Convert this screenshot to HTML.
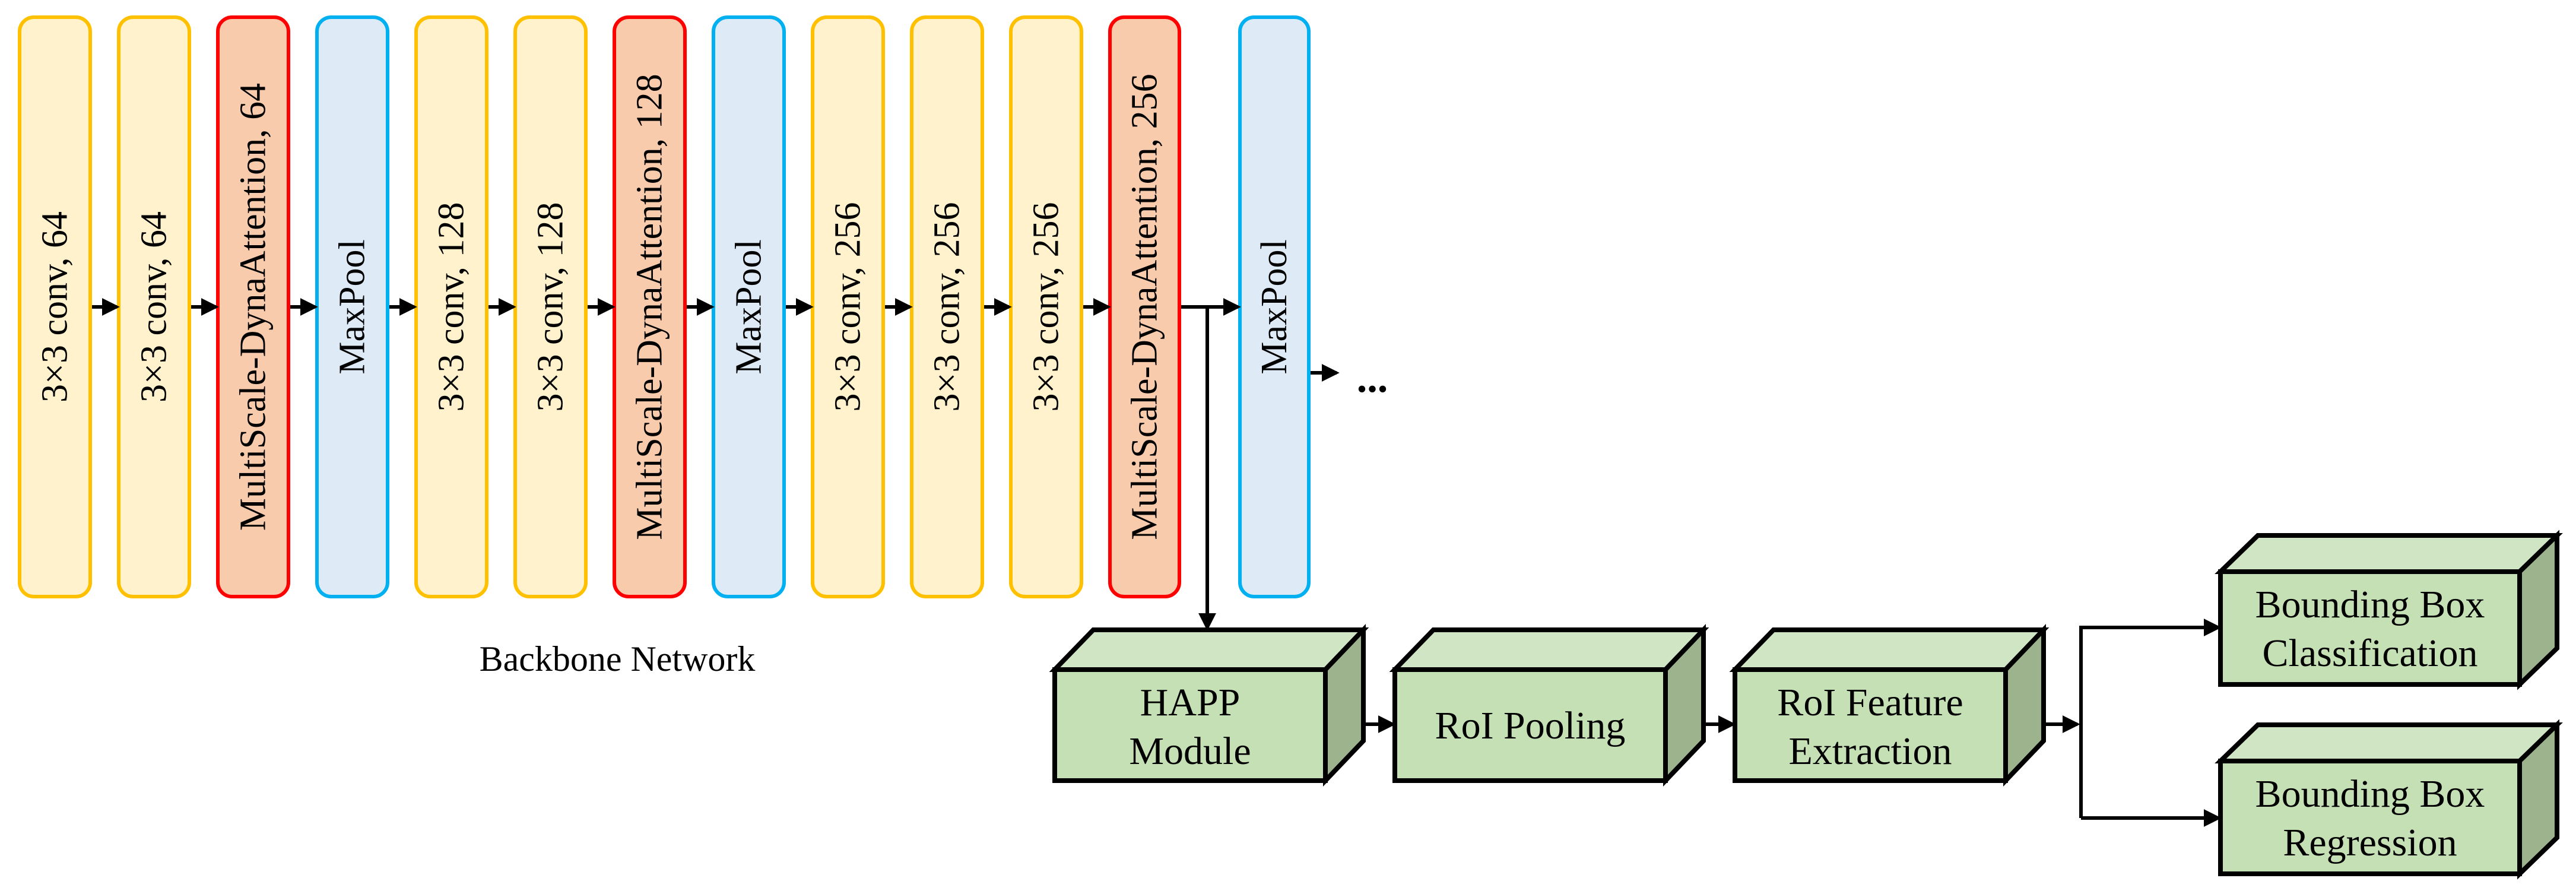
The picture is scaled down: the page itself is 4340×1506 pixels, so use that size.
<!DOCTYPE html>
<html><head><meta charset="utf-8"><style>html,body{margin:0;padding:0;background:#fff}svg{display:block}</style></head>
<body>
<svg width="4340" height="1506" viewBox="0 0 4340 1506" xmlns="http://www.w3.org/2000/svg" font-family="Liberation Serif, serif">
<defs>
<marker id="ah" markerWidth="5" markerHeight="5" refX="4.2" refY="2.5" orient="auto" markerUnits="strokeWidth">
<path d="M0,0 L5,2.5 L0,5 z" fill="#000"/></marker>
</defs>
<g stroke-width="6" id="boxes">
<rect x="33" y="29" width="119" height="976" rx="24" fill="#FFF2CC" stroke="#FFC000"/>
<rect x="200" y="29" width="119" height="976" rx="24" fill="#FFF2CC" stroke="#FFC000"/>
<rect x="367" y="29" width="119" height="976" rx="24" fill="#F8CBAD" stroke="#FF0000"/>
<rect x="534" y="29" width="119" height="976" rx="24" fill="#DEEBF7" stroke="#00B0F0"/>
<rect x="701" y="29" width="119" height="976" rx="24" fill="#FFF2CC" stroke="#FFC000"/>
<rect x="868" y="29" width="119" height="976" rx="24" fill="#FFF2CC" stroke="#FFC000"/>
<rect x="1035" y="29" width="119" height="976" rx="24" fill="#F8CBAD" stroke="#FF0000"/>
<rect x="1202" y="29" width="119" height="976" rx="24" fill="#DEEBF7" stroke="#00B0F0"/>
<rect x="1369" y="29" width="119" height="976" rx="24" fill="#FFF2CC" stroke="#FFC000"/>
<rect x="1536" y="29" width="119" height="976" rx="24" fill="#FFF2CC" stroke="#FFC000"/>
<rect x="1703" y="29" width="119" height="976" rx="24" fill="#FFF2CC" stroke="#FFC000"/>
<rect x="1870" y="29" width="117" height="976" rx="24" fill="#F8CBAD" stroke="#FF0000"/>
<rect x="2089" y="29" width="116" height="976" rx="24" fill="#DEEBF7" stroke="#00B0F0"/>
</g>
<g font-size="62" fill="#000" text-anchor="middle" dominant-baseline="central">
<text transform="translate(92.5,517) rotate(-90)">3×3 conv, 64</text>
<text transform="translate(259.5,517) rotate(-90)">3×3 conv, 64</text>
<text transform="translate(426.5,517) rotate(-90)">MultiScale-DynaAttention, 64</text>
<text transform="translate(593.5,517) rotate(-90)">MaxPool</text>
<text transform="translate(760.5,517) rotate(-90)">3×3 conv, 128</text>
<text transform="translate(927.5,517) rotate(-90)">3×3 conv, 128</text>
<text transform="translate(1094.5,517) rotate(-90)">MultiScale-DynaAttention, 128</text>
<text transform="translate(1261.5,517) rotate(-90)">MaxPool</text>
<text transform="translate(1428.5,517) rotate(-90)">3×3 conv, 256</text>
<text transform="translate(1595.5,517) rotate(-90)">3×3 conv, 256</text>
<text transform="translate(1762.5,517) rotate(-90)">3×3 conv, 256</text>
<text transform="translate(1928.5,517) rotate(-90)">MultiScale-DynaAttention, 256</text>
<text transform="translate(2147,517) rotate(-90)">MaxPool</text>
</g>
<g stroke="#000" stroke-width="6" fill="none" marker-end="url(#ah)">
<line x1="155" y1="517" x2="197" y2="517"/>
<line x1="322" y1="517" x2="364" y2="517"/>
<line x1="489" y1="517" x2="531" y2="517"/>
<line x1="656" y1="517" x2="698" y2="517"/>
<line x1="823" y1="517" x2="865" y2="517"/>
<line x1="990" y1="517" x2="1032" y2="517"/>
<line x1="1157" y1="517" x2="1199" y2="517"/>
<line x1="1324" y1="517" x2="1366" y2="517"/>
<line x1="1491" y1="517" x2="1533" y2="517"/>
<line x1="1658" y1="517" x2="1700" y2="517"/>
<line x1="1825" y1="517" x2="1867" y2="517"/>
<line x1="1990" y1="517" x2="2086" y2="517"/>
<line x1="2208" y1="628" x2="2252" y2="628"/>
<polyline points="2034,517 2034,1058"/>
<line x1="2300" y1="1220" x2="2347" y2="1220"/>
<line x1="2873" y1="1220" x2="2920" y2="1220"/>
<line x1="3446" y1="1220" x2="3500" y2="1220"/>
<polyline points="3506,1378 3506,1057 3738,1057"/>
<line x1="3506" y1="1378" x2="3738" y2="1378"/>
</g>
<text x="2312" y="660" font-size="70" font-weight="bold" text-anchor="middle">...</text>
<text x="1040" y="1130" font-size="60" text-anchor="middle">Backbone Network</text>
<g stroke="#000" stroke-width="8" stroke-linejoin="miter">
<!-- HAPP -->
<polygon points="1777,1128 1842,1061 2297,1061 2233,1128" fill="#D0E5C3"/>
<polygon points="2233,1128 2297,1061 2297,1248 2233,1315" fill="#9DB38E"/>
<rect x="1777" y="1128" width="456" height="187" fill="#C5E0B4"/>
<!-- RoI Pooling -->
<polygon points="2350,1128 2415,1061 2870,1061 2806,1128" fill="#D0E5C3"/>
<polygon points="2806,1128 2870,1061 2870,1248 2806,1315" fill="#9DB38E"/>
<rect x="2350" y="1128" width="456" height="187" fill="#C5E0B4"/>
<!-- RoI Feature -->
<polygon points="2923,1128 2988,1061 3443,1061 3379,1128" fill="#D0E5C3"/>
<polygon points="3379,1128 3443,1061 3443,1248 3379,1315" fill="#9DB38E"/>
<rect x="2923" y="1128" width="456" height="187" fill="#C5E0B4"/>
<!-- BB Classification -->
<polygon points="3741,963 3804,902 4308,902 4245,963" fill="#D0E5C3"/>
<polygon points="4245,963 4308,902 4308,1092 4245,1153" fill="#9DB38E"/>
<rect x="3741" y="963" width="504" height="190" fill="#C5E0B4"/>
<!-- BB Regression -->
<polygon points="3741,1282 3804,1221 4308,1221 4245,1282" fill="#D0E5C3"/>
<polygon points="4245,1282 4308,1221 4308,1411 4245,1472" fill="#9DB38E"/>
<rect x="3741" y="1282" width="504" height="190" fill="#C5E0B4"/>
</g>
<g font-size="66" text-anchor="middle" fill="#000">
<text x="2005" y="1205">HAPP</text>
<text x="2005" y="1287">Module</text>
<text x="2578" y="1244">RoI Pooling</text>
<text x="3151" y="1205">RoI Feature</text>
<text x="3151" y="1287">Extraction</text>
<text x="3993" y="1040">Bounding Box</text>
<text x="3993" y="1122">Classification</text>
<text x="3993" y="1359">Bounding Box</text>
<text x="3993" y="1441">Regression</text>
</g>
</svg>
</body></html>
